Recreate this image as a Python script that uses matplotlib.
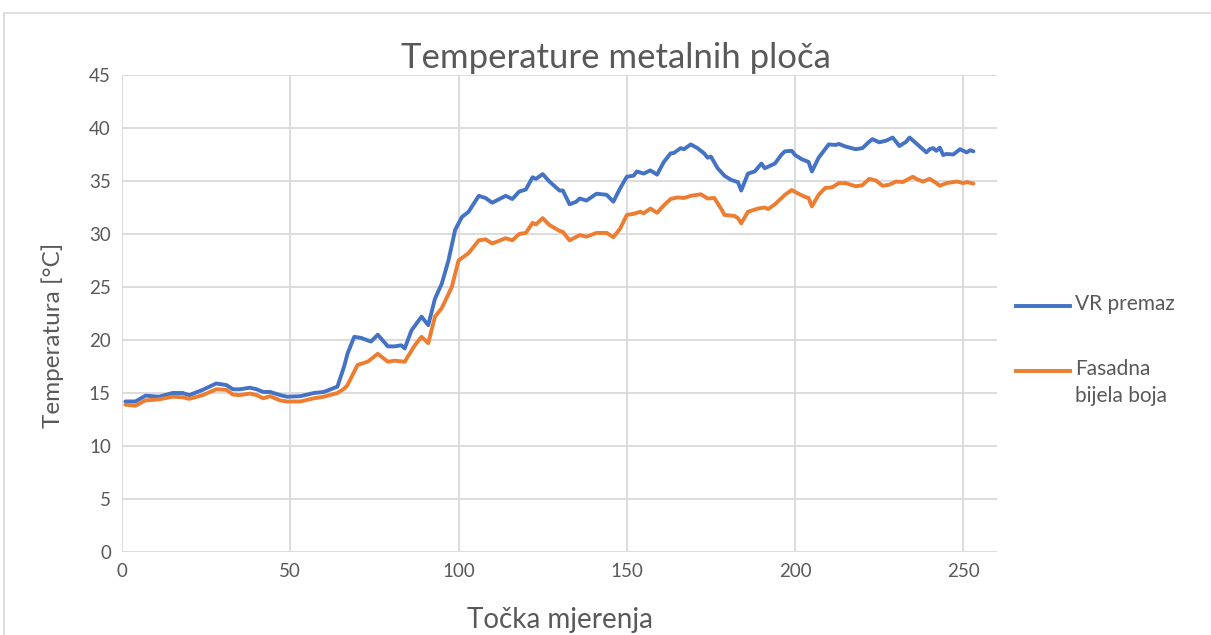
import matplotlib.pyplot as plt
from matplotlib.lines import Line2D
from matplotlib.patches import Rectangle

vr_x = [1, 4, 7, 11, 15, 18, 20, 24, 28, 31, 33, 35, 38, 40, 42, 44, 47, 49, 53, 57,
        60, 64, 66, 67, 69, 71, 74, 76, 79, 81, 83, 84, 86, 89, 91, 93, 95, 97, 99, 101,
        103, 106, 108, 110, 114, 116, 118, 120, 122, 123, 125, 127, 130, 131, 133, 135, 136, 138, 141, 144,
        146, 148, 150, 152, 153, 155, 157, 159, 161, 163, 164, 166, 167, 169, 171, 173, 174, 175, 177, 179,
        181, 183, 184, 186, 188, 190, 191, 194, 196, 197, 199, 200, 202, 204, 205, 207, 210, 212, 213, 215,
        218, 220, 222, 223, 225, 227, 229, 231, 233, 234, 236, 239, 240, 241, 242, 243, 244, 245, 247, 249,
        251, 252, 253]
vr_y = [14.2, 14.2, 14.75, 14.65, 15.0, 15.0, 14.8, 15.3, 15.9, 15.75, 15.35, 15.35, 15.5, 15.35, 15.1, 15.1, 14.8, 14.65, 14.7, 15.0,
        15.1, 15.6, 17.5, 18.7, 20.3, 20.2, 19.85, 20.5, 19.4, 19.4, 19.5, 19.2, 20.9, 22.2, 21.4, 23.9, 25.3, 27.5, 30.4, 31.6,
        32.1, 33.6, 33.4, 32.95, 33.6, 33.3, 34.0, 34.2, 35.35, 35.2, 35.65, 34.95, 34.1, 34.1, 32.8, 33.05, 33.35, 33.15, 33.8, 33.7,
        33.05, 34.3, 35.4, 35.5, 35.9, 35.7, 36.0, 35.6, 36.8, 37.6, 37.65, 38.1, 38.0, 38.45, 38.1, 37.6, 37.2, 37.3, 36.2, 35.5,
        35.1, 34.9, 34.1, 35.7, 35.9, 36.65, 36.2, 36.65, 37.5, 37.8, 37.85, 37.45, 37.05, 36.8, 35.9, 37.2, 38.45, 38.4, 38.5, 38.25,
        38.0, 38.1, 38.7, 38.95, 38.65, 38.8, 39.1, 38.3, 38.7, 39.1, 38.55, 37.7, 38.0, 38.1, 37.85, 38.15, 37.45, 37.55, 37.5, 38.0,
        37.7, 37.9, 37.8]

fb_x = [1, 4, 7, 11, 15, 18, 20, 24, 28, 31, 33, 35, 38, 40, 42, 44, 47, 49, 53, 57,
        60, 64, 66, 67, 70, 73, 76, 79, 81, 84, 87, 89, 91, 93, 95, 98, 100, 103, 106, 108,
        110, 114, 116, 118, 120, 122, 123, 125, 127, 130, 131, 133, 136, 138, 141, 144, 146, 148, 150, 152,
        154, 155, 157, 159, 161, 163, 165, 167, 169, 172, 174, 176, 178, 179, 182, 183, 184, 186, 189, 191,
        192, 194, 197, 199, 201, 203, 204, 205, 207, 209, 211, 213, 215, 218, 220, 222, 224, 226, 228, 230,
        232, 235, 236, 238, 240, 242, 243, 245, 248, 250, 251, 253]
fb_y = [13.9, 13.8, 14.3, 14.4, 14.65, 14.6, 14.45, 14.8, 15.35, 15.3, 14.85, 14.8, 14.95, 14.8, 14.5, 14.7, 14.3, 14.2, 14.2, 14.5,
        14.65, 15.0, 15.4, 15.75, 17.65, 17.95, 18.7, 17.95, 18.05, 17.95, 19.5, 20.3, 19.7, 22.2, 23.0, 25.0, 27.5, 28.2, 29.4, 29.5,
        29.1, 29.6, 29.4, 30.0, 30.1, 31.05, 30.9, 31.5, 30.85, 30.3, 30.2, 29.4, 29.9, 29.75, 30.1, 30.1, 29.7, 30.5, 31.8, 31.9,
        32.1, 31.95, 32.4, 32.0, 32.7, 33.3, 33.45, 33.4, 33.6, 33.75, 33.35, 33.4, 32.4, 31.8, 31.7, 31.5, 31.0, 32.1, 32.4, 32.5,
        32.35, 32.8, 33.7, 34.15, 33.8, 33.5, 33.4, 32.6, 33.7, 34.35, 34.4, 34.8, 34.8, 34.5, 34.6, 35.2, 35.05, 34.55, 34.65, 34.95,
        34.9, 35.4, 35.2, 34.95, 35.2, 34.8, 34.55, 34.8, 34.95, 34.8, 34.9, 34.75]

blue = '#4472C4'
orange = '#ED7D31'
grey_text = '#595959'
plt.rcParams['font.family'] = ['Lato', 'DejaVu Sans']

W, H = 1211, 635
fig = plt.figure(figsize=(W / 100, H / 100), dpi=100)
ax = fig.add_axes([122 / W, 1 - 552 / H, (997 - 122) / W, (552 - 75) / H])

ax.plot(vr_x, vr_y, color=blue, lw=2.8, solid_joinstyle='round', solid_capstyle='round')
ax.plot(fb_x, fb_y, color=orange, lw=2.8, solid_joinstyle='round', solid_capstyle='round')

ax.set_xlim(0, 260)
ax.set_ylim(0, 45)
ax.set_xticks(range(0, 251, 50))
ax.set_yticks(range(0, 46, 5))
ax.grid(True, color='#D9D9D9', lw=1.3)
ax.set_axisbelow(True)
for s in ax.spines.values():
    s.set_visible(False)
ax.tick_params(length=0, labelsize=13.5, colors=grey_text, pad=8)

fig.text(616 / W, 1 - 58 / H, 'Temperature metalnih ploča', fontsize=25,
         color=grey_text, ha='center', va='center')
ax.set_xlabel('Točka mjerenja', fontsize=20, color=grey_text)
ax.xaxis.set_label_coords(0.5, (552 - 620) / 477)
ax.xaxis.label.set_va('center')
ax.set_ylabel('Temperatura [°C]', fontsize=17.5, color=grey_text)
ax.yaxis.set_label_coords((53 - 122) / 875, (552 - 335) / 477)
ax.yaxis.label.set_va('center')

# legend drawn by hand so the orange key sits on the first text line
legend_items = [('VR premaz', blue, 306), ('Fasadna\nbijela boja', orange, 371)]
for label, col, ypx in legend_items:
    fig.add_artist(Line2D([1016 / W, 1070 / W], [1 - ypx / H] * 2, color=col, lw=2.8,
                          transform=fig.transFigure))
    fig.text(1075 / W, 1 - (ypx - 12) / H, label, fontsize=15, color=grey_text,
             ha='left', va='top', linespacing=1.45)

# outer chart border like the Excel chart area
fig.patches.append(Rectangle((4 / W, -0.1), 1.2, 1 - 13 / H + 0.1,
                             transform=fig.transFigure, fill=False,
                             edgecolor='#D9D9D9', lw=1.2))

fig.savefig('out.png', dpi=100)
